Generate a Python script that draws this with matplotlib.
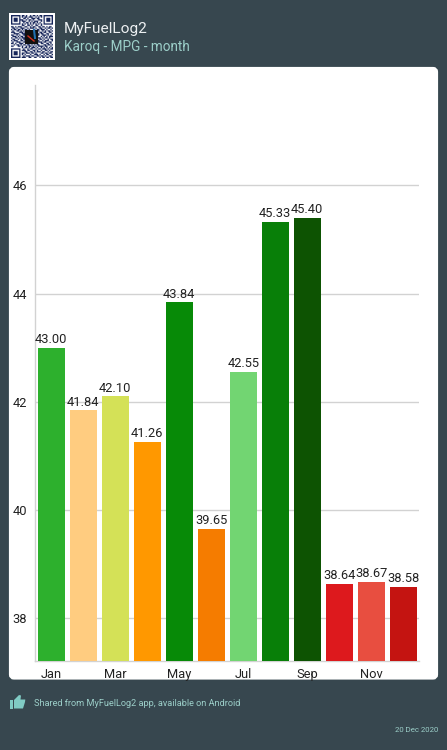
import matplotlib
matplotlib.use("Agg")
import matplotlib.pyplot as plt
from matplotlib.patches import FancyBboxPatch, Polygon, Rectangle
import numpy as np

months = ['Jan', 'Feb', 'Mar', 'Apr', 'May', 'Jun', 'Jul', 'Aug', 'Sep', 'Oct', 'Nov', 'Dec']
mpg = [43.00, 41.84, 42.10, 41.26, 43.84, 39.65, 42.55, 45.33, 45.40, 38.64, 38.67, 38.58]
bar_colors = ['#2db02d', '#ffcc80', '#d4e157', '#ff9800', '#078a07', '#f57c00',
              '#72d572', '#087f08', '#0d5302', '#dd191d', '#e84e40', '#c41411']
y_ticks = [38, 40, 42, 44, 46]

W, H = 447, 750
BG = '#37474f'
plt.rcParams['font.family'] = ['Roboto', 'DejaVu Sans']

fig = plt.figure(figsize=(W / 100, H / 100), dpi=100)
fig.patch.set_facecolor(BG)

# pixel overlay for the card, header and footer
bg = fig.add_axes([0, 0, 1, 1])
bg.set_xlim(0, W)
bg.set_ylim(H, 0)
bg.axis('off')
bg.add_patch(FancyBboxPatch((11, 69), 425, 608.5, boxstyle='round,pad=0,rounding_size=3',
                            fc='white', ec='white', lw=3))

# qr code block, roughly the same look as the original
qr = ["1111111011010010110101101111111", "1000001010110111001010101000001",
      "1011101001101001110110001011101", "1011101110010110100011101011101",
      "1011101011100101011100101011101", "1000001001011010110101001000001",
      "1111111010101010101010101111111", "0000000011001101001100100000000",
      "1101011100110010110011011010110", "0110100111001011101001100101101",
      "1011011010110100010110111010010", "0100110101001111101010010101101",
      "1110001110111111111101101100110", "0011110011111111111110110011001",
      "1100101001111111111110011101010", "0111010110111111111100101010111",
      "1001101011111111111111010110100", "0110010101111111111101101001011",
      "1011100110111111111110010111001", "0100111001100111110011101100110",
      "1101001110011010101100110011010", "0010110101101101010110001101101",
      "1100011010010110101011110110010", "0000000010110101110100101010101",
      "1111111001001011001011011101011", "1000001011101100110100100110100",
      "1011101000110011010111011001011", "1011101011011101101000110110110",
      "1011101010100010011101001011001", "1000001001011101100110110100110",
      "1111111011100110011001011011011"]
qr_img = np.array([[int(c) for c in row] for row in qr])
bg.add_patch(Rectangle((9, 13), 46, 47, fc='white', ec='none'))
bg.imshow(qr_img, cmap=matplotlib.colors.ListedColormap(['white', '#16255a']),
          extent=(11, 53, 58, 15), interpolation='bilinear', aspect='auto', zorder=3)
bg.add_patch(Rectangle((25, 30), 13, 14, fc='#101010', ec='none', zorder=4))
bg.plot([28, 34], [36, 41], color='#d03020', lw=1, zorder=5)
bg.plot([34, 35], [30, 38], color='#2070b0', lw=1.5, zorder=5)
bg.set_xlim(0, W)
bg.set_ylim(H, 0)

bg.text(64, 28.5, 'MyFuelLog2', color='#eceff1', fontsize=11.1, va='center', ha='left')
bg.text(64, 47.5, 'Karoq - MPG - month', color='#9ccfc9', fontsize=9.8, va='center', ha='left')
bg.text(34.5, 703, 'Shared from MyFuelLog2 app, available on Android', color='#9ccfc9',
        fontsize=6.55, va='center', ha='left')
bg.text(438, 730.5, '20 Dec 2020', color='#9ccfc9', fontsize=5.6, va='center', ha='right')

# thumbs up icon
bg.add_patch(Rectangle((9.5, 700), 3.5, 8.5, fc='#80cbc4', ec='none'))
bg.add_patch(Polygon([(14, 700), (19, 695), (21, 695.5), (20.5, 699.5), (25.3, 699.5),
                      (25, 702), (23, 708.5), (14, 708.5)],
                     closed=True, fc='#80cbc4', ec='none'))

# chart area
left, right, bottom, top = 35.3, 419.3, 661.3, 85
ax = fig.add_axes([left / W, 1 - bottom / H, (right - left) / W, (bottom - top) / H])
ax.patch.set_alpha(0)
x = np.arange(len(months))
ax.bar(x, mpg, width=0.855, bottom=0, color=bar_colors, zorder=3)
for xi, v in zip(x, mpg):
    ax.text(xi, v + 0.03, f'{v:.2f}', ha='center', va='bottom', fontsize=9.3,
            color='#222222', zorder=4)

ax.set_xlim(-0.5, 11.5)
ax.set_ylim(37.205, 47.855)
ax.set_yticks(y_ticks)
ax.set_xticks(x[::2])
ax.set_xticklabels(months[::2])
ax.tick_params(length=0, labelsize=9.3, labelcolor='#222222')
ax.tick_params(axis='x', pad=5)
ax.tick_params(axis='y', pad=6)
ax.grid(axis='y', color='#d2d2d2', lw=1, zorder=0)
for s in ['top', 'right']:
    ax.spines[s].set_visible(False)
for s in ['left', 'bottom']:
    ax.spines[s].set_color('#d2d2d2')
    ax.spines[s].set_linewidth(1)

fig.savefig('out.png', dpi=100, facecolor=BG)
